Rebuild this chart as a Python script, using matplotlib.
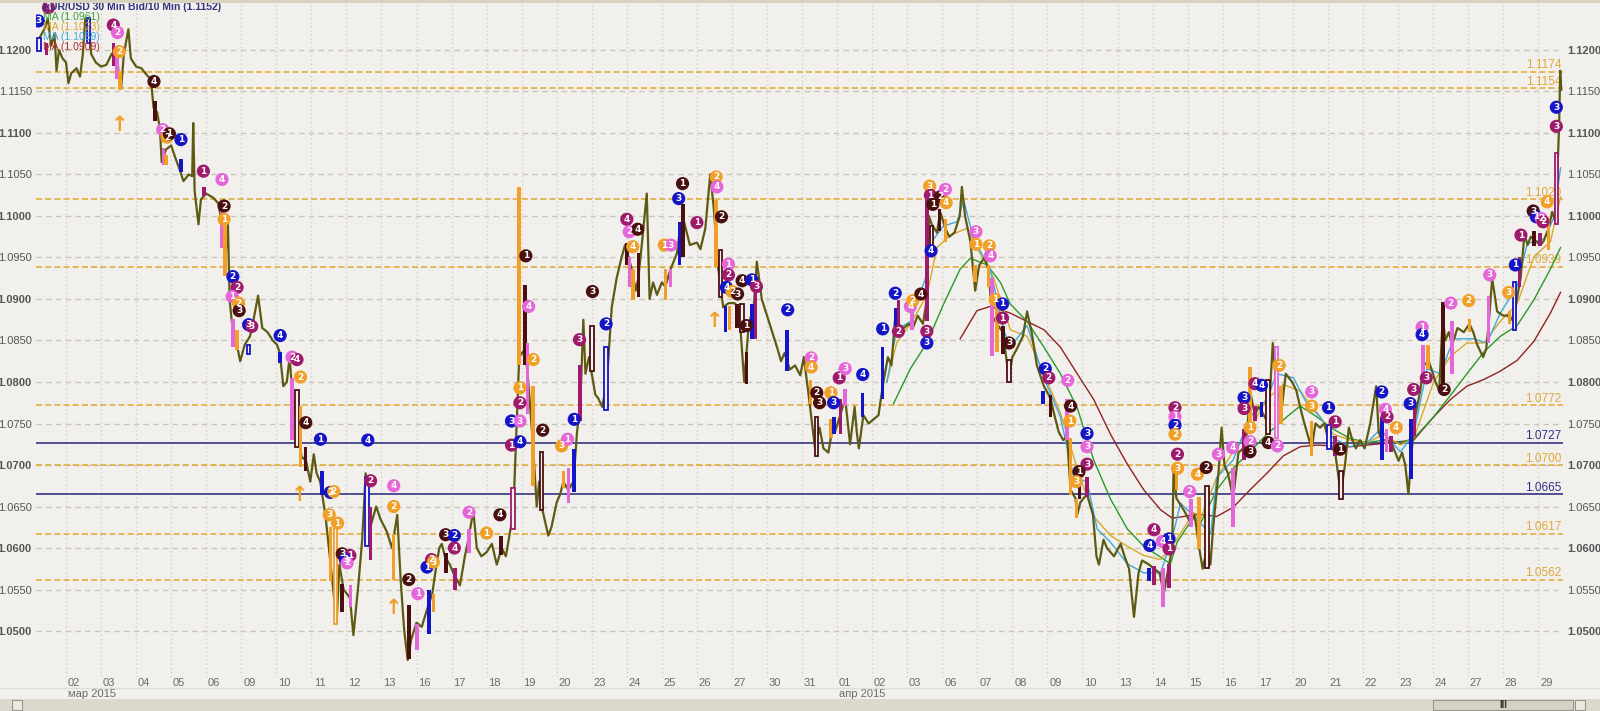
import matplotlib
matplotlib.use("Agg")
import matplotlib.pyplot as plt
from matplotlib.transforms import blended_transform_factory
from matplotlib.patches import Rectangle
from matplotlib.lines import Line2D

plt.rcParams['font.family'] = ['Liberation Sans Narrow', 'Liberation Sans', 'DejaVu Sans']

# торговые дни: индекс 0 = 02 марта, 42 = 29 апреля
day_labels = ["02", "03", "04", "05", "06", "09", "10", "11", "12", "13", "16", "17", "18", "19", "20",
              "23", "24", "25", "26", "27", "30", "31", "01", "02", "03", "06", "07", "08", "09", "10",
              "13", "14", "15", "16", "17", "20", "21", "22", "23", "24", "27", "28", "29"]
month_labels = [(0, "мар 2015"), (22, "апр 2015")]

# цена (индекс дня, курс)
price_path = [
    (-0.86, 1.1205), (-0.75, 1.1215), (-0.62, 1.1225), (-0.52, 1.1238), (-0.42, 1.1205), (-0.33, 1.1220),
    (-0.27, 1.1175), (-0.2, 1.1200), (-0.1, 1.1190), (0.0, 1.1185), (0.07, 1.1160), (0.15, 1.1172),
    (0.3, 1.1178), (0.4, 1.1168), (0.48, 1.1195), (0.55, 1.1238), (0.65, 1.1225), (0.72, 1.1195),
    (0.85, 1.1185), (1.0, 1.1180), (1.15, 1.1182), (1.3, 1.1195), (1.45, 1.1200), (1.52, 1.1160),
    (1.57, 1.1153), (1.65, 1.1195), (1.78, 1.1225), (1.85, 1.1190), (2.0, 1.1180), (2.15, 1.1178),
    (2.3, 1.1170), (2.42, 1.1165), (2.5, 1.1130), (2.6, 1.1125), (2.68, 1.1105), (2.73, 1.1065),
    (2.85, 1.1080), (3.0, 1.1085), (3.12, 1.1070), (3.25, 1.1055), (3.35, 1.1042), (3.5, 1.1050),
    (3.6, 1.1048), (3.63, 1.1112), (3.67, 1.1030), (3.78, 1.0990), (3.85, 1.1020), (4.0, 1.1027),
    (4.2, 1.1022), (4.35, 1.1015), (4.45, 1.0990), (4.55, 1.0950), (4.62, 1.0990), (4.67, 1.0898),
    (4.75, 1.0865), (4.85, 1.0850), (4.97, 1.0825), (5.1, 1.0845), (5.25, 1.0855), (5.35, 1.0875),
    (5.48, 1.0904), (5.6, 1.0865), (5.75, 1.0860), (5.9, 1.0850), (6.02, 1.0845), (6.1, 1.0835),
    (6.2, 1.0795), (6.3, 1.0800), (6.38, 1.0830), (6.45, 1.0790), (6.6, 1.0745), (6.72, 1.0710),
    (6.85, 1.0705), (6.97, 1.0680), (7.07, 1.0713), (7.15, 1.0690), (7.25, 1.0680), (7.4, 1.0640),
    (7.5, 1.0600), (7.6, 1.0560), (7.72, 1.0510), (7.8, 1.0580), (7.92, 1.0550), (8.1, 1.0540),
    (8.2, 1.0495), (8.35, 1.0560), (8.45, 1.0610), (8.55, 1.0690), (8.68, 1.0625), (8.85, 1.0650),
    (8.97, 1.0635), (9.15, 1.0620), (9.3, 1.0600), (9.45, 1.0640), (9.55, 1.0560), (9.65, 1.0500),
    (9.75, 1.0465), (9.85, 1.0490), (10.0, 1.0510), (10.15, 1.0505), (10.33, 1.0530), (10.45, 1.0545),
    (10.57, 1.0580), (10.65, 1.0600), (10.72, 1.0605), (10.81, 1.0590), (10.95, 1.0580), (11.05, 1.0570),
    (11.24, 1.0555), (11.38, 1.0590), (11.48, 1.0610), (11.62, 1.0645), (11.72, 1.0600), (11.85, 1.0590),
    (12.0, 1.0595), (12.15, 1.0605), (12.29, 1.0580), (12.43, 1.0600), (12.55, 1.0590), (12.67, 1.0620),
    (12.76, 1.0640), (12.86, 1.0750), (12.93, 1.0830), (13.1, 1.0840), (13.19, 1.0800), (13.33, 1.0720),
    (13.43, 1.0650), (13.5, 1.0680), (13.57, 1.0650), (13.76, 1.0615), (13.85, 1.0625), (14.0, 1.0655),
    (14.1, 1.0665), (14.19, 1.0680), (14.33, 1.0670), (14.48, 1.0680), (14.58, 1.0740), (14.67, 1.0770),
    (14.76, 1.0875), (14.82, 1.0810), (14.92, 1.0830), (15.0, 1.0810), (15.1, 1.0785), (15.19, 1.0780),
    (15.3, 1.0770), (15.43, 1.0800), (15.57, 1.0890), (15.71, 1.0925), (15.85, 1.0950), (15.95, 1.0965),
    (16.05, 1.0950), (16.15, 1.0935), (16.25, 1.0910), (16.33, 1.0925), (16.45, 1.0975), (16.57, 1.1027),
    (16.65, 1.0900), (16.75, 1.0920), (16.86, 1.0905), (17.0, 1.0920), (17.1, 1.0915), (17.24, 1.0935),
    (17.43, 1.0955), (17.52, 1.0985), (17.62, 1.0995), (17.8, 1.0965), (18.0, 1.0968), (18.1, 1.0960),
    (18.24, 1.0985), (18.38, 1.1050), (18.48, 1.1010), (18.6, 1.0940), (18.75, 1.0890), (18.9, 1.0895),
    (19.07, 1.0895), (19.2, 1.0890), (19.35, 1.0800), (19.48, 1.0870), (19.62, 1.0890), (19.71, 1.0945),
    (19.85, 1.0900), (20.0, 1.0880), (20.15, 1.0860), (20.3, 1.0840), (20.4, 1.0825), (20.5, 1.0835),
    (20.65, 1.0815), (20.8, 1.0820), (20.95, 1.0808), (21.05, 1.0830), (21.2, 1.0780), (21.37, 1.0720),
    (21.5, 1.0745), (21.61, 1.0720), (21.75, 1.0715), (21.85, 1.0740), (21.94, 1.0740), (22.09, 1.0760),
    (22.23, 1.0780), (22.37, 1.0725), (22.5, 1.0770), (22.56, 1.0740), (22.62, 1.0720), (22.75, 1.0760),
    (22.9, 1.0750), (23.04, 1.0755), (23.18, 1.0760), (23.32, 1.0800), (23.45, 1.0830), (23.55, 1.0820),
    (23.66, 1.0880), (23.75, 1.0870), (23.9, 1.0865), (24.05, 1.0870), (24.16, 1.0865), (24.3, 1.0880),
    (24.45, 1.0870), (24.56, 1.0900), (24.62, 1.1000), (24.7, 1.0990), (24.85, 1.0980), (24.94, 1.1005),
    (25.09, 1.0985), (25.2, 1.0975), (25.35, 1.0980), (25.5, 1.1000), (25.56, 1.1035), (25.65, 1.1000),
    (25.8, 1.0970), (25.94, 1.0910), (26.05, 1.0940), (26.2, 1.0950), (26.32, 1.0935), (26.42, 1.0880),
    (26.56, 1.0870), (26.73, 1.0860), (26.9, 1.0805), (27.0, 1.0830), (27.13, 1.0840), (27.3, 1.0855),
    (27.42, 1.0885), (27.55, 1.0860), (27.7, 1.0820), (27.9, 1.0795), (28.09, 1.0780), (28.2, 1.0760),
    (28.32, 1.0740), (28.45, 1.0730), (28.56, 1.0735), (28.66, 1.0670), (28.8, 1.0660), (28.85, 1.0640),
    (28.94, 1.0655), (29.13, 1.0665), (29.3, 1.0640), (29.4, 1.0590), (29.47, 1.0580), (29.6, 1.0610),
    (29.7, 1.0600), (29.9, 1.0590), (30.09, 1.0605), (30.2, 1.0590), (30.33, 1.0575), (30.47, 1.0517),
    (30.6, 1.0570), (30.7, 1.0585), (30.9, 1.0580), (31.04, 1.0575), (31.2, 1.0570), (31.32, 1.0545),
    (31.47, 1.0580), (31.56, 1.0600), (31.6, 1.0695), (31.68, 1.0660), (31.9, 1.0645), (32.09, 1.0630),
    (32.2, 1.0640), (32.33, 1.0600), (32.43, 1.0575), (32.56, 1.0600), (32.65, 1.0580), (32.73, 1.0625),
    (32.88, 1.0690), (32.97, 1.0745), (33.05, 1.0700), (33.15, 1.0690), (33.3, 1.0660), (33.45, 1.0715),
    (33.59, 1.0720), (33.7, 1.0740), (33.78, 1.0790), (33.92, 1.0760), (34.02, 1.0770), (34.11, 1.0765),
    (34.3, 1.0750), (34.43, 1.0847), (34.54, 1.0790), (34.69, 1.0770), (34.8, 1.0810), (34.98, 1.0800),
    (35.1, 1.0790), (35.21, 1.0770), (35.3, 1.0755), (35.4, 1.0740), (35.54, 1.0720), (35.65, 1.0750),
    (35.78, 1.0745), (35.9, 1.0750), (36.04, 1.0725), (36.21, 1.0715), (36.37, 1.0665), (36.49, 1.0700),
    (36.6, 1.0745), (36.7, 1.0730), (36.8, 1.0720), (36.92, 1.0730), (37.05, 1.0720), (37.21, 1.0750),
    (37.38, 1.0795), (37.45, 1.0740), (37.54, 1.0730), (37.69, 1.0730), (37.83, 1.0725), (38.02, 1.0705),
    (38.12, 1.0715), (38.21, 1.0700), (38.3, 1.0665), (38.4, 1.0720), (38.5, 1.0760), (38.64, 1.0790),
    (38.73, 1.0820), (38.88, 1.0825), (39.0, 1.0810), (39.07, 1.0800), (39.18, 1.0790), (39.28, 1.0880),
    (39.35, 1.0850), (39.45, 1.0860), (39.55, 1.0845), (39.7, 1.0865), (39.88, 1.0860), (40.04, 1.0870),
    (40.15, 1.0860), (40.26, 1.0845), (40.43, 1.0830), (40.52, 1.0840), (40.59, 1.0870), (40.69, 1.0925),
    (40.83, 1.0885), (41.0, 1.0880), (41.12, 1.0880), (41.25, 1.0875), (41.35, 1.0890), (41.5, 1.0925),
    (41.61, 1.0978), (41.7, 1.0965), (41.79, 1.0975), (41.92, 1.0970), (42.07, 1.0965), (42.16, 1.0970),
    (42.3, 1.0985), (42.4, 1.1005), (42.48, 1.0995), (42.54, 1.1040), (42.6, 1.1110), (42.63, 1.1175),
    (42.66, 1.1152),
]

# скользящие средние
ma_green = [(23.61, 1.0774), (24.09, 1.0816), (24.56, 1.0847), (25.04, 1.0894), (25.51, 1.0936), (25.8, 1.0949),
            (26.28, 1.0941), (26.66, 1.0920), (26.94, 1.0894), (27.42, 1.0873), (27.9, 1.0842), (28.37, 1.0810),
            (28.85, 1.0769), (29.32, 1.0706), (29.8, 1.0659), (30.28, 1.0623), (30.75, 1.0602), (31.23, 1.0589),
            (31.51, 1.0581), (31.7, 1.0607), (32.18, 1.0638), (32.35, 1.0628), (32.83, 1.0670), (33.3, 1.0696),
            (33.78, 1.0716), (34.26, 1.0737), (34.83, 1.0758), (35.21, 1.0771), (35.69, 1.0758), (36.16, 1.0743),
            (36.64, 1.0732), (37.12, 1.0727), (37.59, 1.0730), (38.07, 1.0727), (38.45, 1.0732), (39.02, 1.0758),
            (39.5, 1.0784), (39.97, 1.0810), (40.45, 1.0836), (40.92, 1.0855), (41.4, 1.0868), (41.88, 1.0899),
            (42.35, 1.0936), (42.64, 1.0962)]
ma_orange = [(23.42, 1.0800), (23.7, 1.0847), (24.09, 1.0870), (24.56, 1.0904), (24.85, 1.0962), (25.23, 1.0977),
             (25.7, 1.0985), (25.99, 1.0962), (26.47, 1.0925), (26.94, 1.0863), (27.42, 1.0855), (27.9, 1.0810),
             (28.37, 1.0763), (28.85, 1.0696), (29.32, 1.0638), (29.8, 1.0615), (30.28, 1.0602), (30.75, 1.0591),
             (31.23, 1.0586), (31.56, 1.0602), (32.18, 1.0643), (32.35, 1.0633), (32.83, 1.0685), (33.3, 1.0716),
             (33.78, 1.0743), (34.26, 1.0779), (34.73, 1.0797), (35.21, 1.0789), (35.69, 1.0763), (36.16, 1.0737),
             (36.64, 1.0730), (37.12, 1.0727), (37.59, 1.0737), (38.07, 1.0724), (38.45, 1.0732), (39.02, 1.0800),
             (39.5, 1.0831), (39.97, 1.0847), (40.45, 1.0847), (40.92, 1.0873), (41.4, 1.0894), (41.88, 1.0951),
             (42.35, 1.0969), (42.64, 1.1023)]
ma_blue = [(23.42, 1.0800), (23.7, 1.0863), (24.09, 1.0873), (24.52, 1.0925), (24.66, 1.0967), (25.04, 1.0988),
           (25.42, 1.0993), (25.61, 1.1019), (25.9, 1.0972), (26.37, 1.0936), (26.75, 1.0863), (26.94, 1.0842),
           (27.42, 1.0868), (27.9, 1.0805), (28.37, 1.0758), (28.75, 1.0685), (29.13, 1.0680), (29.42, 1.0623),
           (29.8, 1.0607), (30.28, 1.0581), (30.75, 1.0570), (31.23, 1.0570), (31.56, 1.0612), (31.8, 1.0654),
           (32.18, 1.0638), (32.66, 1.0617), (32.83, 1.0685), (33.3, 1.0706), (33.78, 1.0758), (34.26, 1.0779),
           (34.54, 1.0810), (35.02, 1.0805), (35.4, 1.0774), (35.78, 1.0758), (36.16, 1.0732), (36.64, 1.0722),
           (37.12, 1.0727), (37.5, 1.0743), (38.07, 1.0716), (38.45, 1.0737), (38.83, 1.0816), (39.21, 1.0810),
           (39.59, 1.0852), (40.16, 1.0852), (40.54, 1.0847), (40.92, 1.0883), (41.4, 1.0915), (41.69, 1.0967),
           (42.16, 1.0972), (42.45, 1.0998), (42.64, 1.1058)]
ma_red = [(25.51, 1.0852), (25.99, 1.0886), (26.37, 1.0891), (26.94, 1.0883), (27.42, 1.0873), (27.9, 1.0863),
          (28.37, 1.0842), (28.85, 1.0810), (29.32, 1.0779), (29.8, 1.0737), (30.28, 1.0701), (30.75, 1.0670),
          (31.23, 1.0646), (31.56, 1.0636), (31.9, 1.0638), (32.28, 1.0641), (32.83, 1.0638), (33.3, 1.0649),
          (33.78, 1.0670), (34.26, 1.0690), (34.73, 1.0711), (35.21, 1.0722), (35.69, 1.0724), (36.64, 1.0722),
          (37.59, 1.0726), (38.45, 1.0730), (39.02, 1.0758), (39.5, 1.0779), (39.97, 1.0795), (40.45, 1.0803),
          (40.92, 1.0813), (41.4, 1.0826), (41.88, 1.0849), (42.35, 1.0883), (42.64, 1.0908)]
ma_legend = [("MA (1.0961)", "g"), ("MA (1.1023)", "o"), ("MA (1.1059)", "c"), ("MA (1.0909)", "r")]

# уровни
gold_levels = [1.1174, 1.1154, 1.1020, 1.0939, 1.0772, 1.0700, 1.0617, 1.0562]
navy_levels = [1.0727, 1.0665]

# выделенные свечи: (день, мин, макс, цвет, полая)
bars = [
    (-0.77, 1.1199, 1.1215, "b", True), (-0.55, 1.1194, 1.1209, "m", False), (0.64, 1.1209, 1.1238, "b", True),
    (1.35, 1.1181, 1.1209, "m", False), (1.45, 1.1165, 1.1196, "p", False), (1.54, 1.1152, 1.1175, "o", False),
    (2.54, 1.1115, 1.1139, "r", False), (2.78, 1.1061, 1.1082, "p", False), (2.86, 1.1061, 1.1074, "o", False),
    (3.28, 1.1053, 1.1069, "b", False), (3.94, 1.1024, 1.1035, "m", False), (4.45, 1.0962, 1.1019, "p", False),
    (4.54, 1.0928, 1.0988, "o", False), (4.76, 1.0842, 1.0876, "p", False), (4.88, 1.0839, 1.0863, "o", False),
    (5.21, 1.0834, 1.0844, "b", True), (6.11, 1.0823, 1.0836, "b", False), (6.45, 1.0730, 1.0805, "p", False),
    (6.59, 1.0722, 1.0790, "r", True), (6.69, 1.0698, 1.0771, "o", False), (6.83, 1.0693, 1.0722, "r", False),
    (7.3, 1.0664, 1.0693, "b", False), (7.54, 1.0560, 1.0625, "o", False), (7.69, 1.0508, 1.0628, "o", True),
    (7.88, 1.0523, 1.0557, "r", False), (8.11, 1.0529, 1.0555, "p", False), (8.59, 1.0602, 1.0685, "b", True),
    (8.69, 1.0586, 1.0649, "m", False), (9.35, 1.0562, 1.0617, "o", False), (9.78, 1.0466, 1.0531, "r", False),
    (10.02, 1.0477, 1.0508, "p", False), (10.35, 1.0497, 1.0550, "b", False), (10.48, 1.0523, 1.0544, "o", False),
    (10.84, 1.0570, 1.0594, "r", False), (11.1, 1.0550, 1.0576, "m", False), (11.5, 1.0594, 1.0623, "p", False),
    (12.41, 1.0591, 1.0615, "r", False), (12.76, 1.0623, 1.0672, "m", True), (12.93, 1.0821, 1.1035, "o", False),
    (13.1, 1.0821, 1.0917, "r", False), (13.17, 1.0761, 1.0847, "p", False), (13.33, 1.0675, 1.0795, "o", False),
    (13.57, 1.0646, 1.0716, "r", True), (14.19, 1.0672, 1.0693, "o", False), (14.33, 1.0654, 1.0696, "p", False),
    (14.5, 1.0667, 1.0719, "b", False), (14.67, 1.0753, 1.0821, "m", False), (15.0, 1.0813, 1.0868, "r", True),
    (15.41, 1.0766, 1.0842, "b", True), (16.0, 1.0941, 1.0967, "r", False), (16.07, 1.0915, 1.0951, "p", False),
    (16.17, 1.0899, 1.0936, "o", False), (16.33, 1.0902, 1.0956, "r", False), (17.1, 1.0899, 1.0936, "o", False),
    (17.24, 1.0915, 1.0936, "p", False), (17.5, 1.0941, 1.0993, "b", False), (17.6, 1.0951, 1.1014, "r", False),
    (18.55, 1.0938, 1.1019, "o", False), (18.67, 1.0902, 1.0959, "r", True), (18.81, 1.0860, 1.0891, "b", False),
    (18.93, 1.0863, 1.0891, "o", False), (19.14, 1.0865, 1.0894, "r", False), (19.29, 1.0860, 1.0894, "r", True),
    (19.41, 1.0797, 1.0836, "r", False), (19.57, 1.0852, 1.0894, "b", False), (19.67, 1.0852, 1.0915, "m", False),
    (20.57, 1.0813, 1.0863, "b", False), (21.24, 1.0774, 1.0803, "o", False), (21.41, 1.0711, 1.0758, "r", True),
    (21.82, 1.0732, 1.0756, "o", False), (21.91, 1.0737, 1.0758, "b", False), (22.09, 1.0737, 1.0779, "m", False),
    (22.23, 1.0771, 1.0792, "p", False), (22.73, 1.0758, 1.0787, "b", False), (23.3, 1.0779, 1.0842, "b", False),
    (23.66, 1.0868, 1.0889, "b", False), (23.75, 1.0863, 1.0899, "m", False), (24.13, 1.0863, 1.0883, "p", False),
    (24.56, 1.0873, 1.1029, "m", False), (24.7, 1.0962, 1.0988, "r", True), (24.92, 1.0982, 1.1009, "r", False),
    (25.09, 1.0969, 1.0996, "o", False), (25.94, 1.0920, 1.0941, "o", False), (26.32, 1.0915, 1.0941, "o", False),
    (26.42, 1.0831, 1.0925, "p", False), (26.56, 1.0836, 1.0894, "o", False), (26.73, 1.0834, 1.0868, "r", False),
    (26.91, 1.0800, 1.0826, "r", True), (27.87, 1.0774, 1.0789, "b", False), (28.09, 1.0758, 1.0784, "r", False),
    (28.56, 1.0730, 1.0779, "p", False), (28.66, 1.0664, 1.0732, "o", False), (28.83, 1.0636, 1.0659, "o", False),
    (28.92, 1.0659, 1.0685, "r", False), (29.13, 1.0662, 1.0685, "m", False), (30.9, 1.0560, 1.0576, "b", False),
    (31.04, 1.0555, 1.0578, "m", False), (31.3, 1.0529, 1.0576, "p", False), (31.47, 1.0552, 1.0581, "m", False),
    (31.68, 1.0670, 1.0693, "o", False), (32.09, 1.0625, 1.0659, "p", False), (32.33, 1.0599, 1.0662, "o", False),
    (32.56, 1.0576, 1.0675, "r", True), (33.3, 1.0625, 1.0696, "p", False), (33.61, 1.0706, 1.0743, "m", False),
    (33.78, 1.0750, 1.0818, "o", False), (33.92, 1.0753, 1.0771, "m", False), (34.11, 1.0758, 1.0776, "b", False),
    (34.3, 1.0737, 1.0803, "r", True), (34.54, 1.0732, 1.0842, "p", True), (34.66, 1.0750, 1.0795, "o", False),
    (35.54, 1.0711, 1.0753, "o", False), (36.04, 1.0719, 1.0748, "b", True), (36.21, 1.0711, 1.0735, "m", False),
    (36.37, 1.0659, 1.0693, "r", True), (37.54, 1.0706, 1.0758, "b", False), (37.67, 1.0716, 1.0743, "p", False),
    (37.8, 1.0716, 1.0735, "m", False), (38.37, 1.0683, 1.0756, "b", False), (38.47, 1.0735, 1.0776, "m", False),
    (38.71, 1.0800, 1.0844, "p", False), (38.86, 1.0816, 1.0844, "o", False), (39.28, 1.0792, 1.0896, "r", False),
    (39.55, 1.0810, 1.0873, "p", False), (40.04, 1.0860, 1.0876, "o", False), (40.59, 1.0847, 1.0904, "p", False),
    (41.18, 1.0870, 1.0886, "o", False), (41.32, 1.0863, 1.0920, "b", True), (41.47, 1.0915, 1.0951, "m", False),
    (41.88, 1.0964, 1.0982, "r", False), (42.05, 1.0964, 1.0980, "m", False), (42.29, 1.0959, 1.0998, "o", False),
    (42.52, 1.0990, 1.1076, "m", True),
]

# метки-кружки: (день, курс, номер, цвет)
marks = [
    (-0.79, 1.1235, "3", "b"), (-0.5, 1.1251, "3", "m"), (1.35, 1.1230, "4", "m"), (1.47, 1.1221, "2", "p"),
    (1.52, 1.1198, "2", "o"), (2.51, 1.1162, "4", "r"), (2.76, 1.1104, "2", "p"), (2.88, 1.1095, "2", "o"),
    (2.95, 1.1099, "1", "r"), (3.28, 1.1092, "1", "b"), (3.92, 1.1054, "1", "m"), (4.45, 1.1044, "4", "p"),
    (4.51, 1.1012, "2", "r"), (4.51, 1.0996, "1", "o"), (4.76, 1.0927, "2", "b"), (4.88, 1.0914, "2", "m"),
    (4.74, 1.0903, "1", "p"), (4.92, 1.0895, "2", "o"), (4.94, 1.0886, "3", "r"), (5.21, 1.0869, "3", "b"),
    (5.30, 1.0867, "3", "m"), (6.11, 1.0856, "4", "b"), (6.45, 1.0830, "2", "p"), (6.59, 1.0827, "4", "m"),
    (6.69, 1.0806, "2", "o"), (6.84, 1.0751, "4", "r"), (7.26, 1.0731, "1", "b"), (8.61, 1.0730, "4", "b"),
    (7.54, 1.0667, "2", "b"), (7.64, 1.0668, "2", "o"), (7.51, 1.0640, "3", "o"), (7.75, 1.0630, "1", "o"),
    (7.88, 1.0593, "3", "r"), (8.10, 1.0591, "1", "m"), (7.97, 1.0586, "3", "b"), (8.02, 1.0582, "2", "p"),
    (8.69, 1.0681, "2", "m"), (9.35, 1.0675, "4", "p"), (9.35, 1.0650, "2", "o"), (9.78, 1.0562, "2", "r"),
    (10.04, 1.0545, "1", "p"), (10.30, 1.0577, "1", "b"), (10.43, 1.0586, "2", "m"), (10.48, 1.0583, "3", "o"),
    (10.83, 1.0616, "3", "r"), (11.08, 1.0615, "2", "b"), (11.08, 1.0600, "4", "m"), (11.50, 1.0643, "2", "p"),
    (12.0, 1.0618, "1", "o"), (12.38, 1.0640, "4", "r"), (12.71, 1.0724, "1", "m"), (12.95, 1.0728, "4", "b"),
    (12.71, 1.0753, "3", "b"), (12.95, 1.0753, "3", "p"), (12.95, 1.0775, "2", "m"), (12.95, 1.0793, "1", "o"),
    (13.12, 1.0952, "1", "r"), (13.20, 1.0891, "4", "p"), (13.33, 1.0827, "2", "o"), (13.60, 1.0742, "2", "r"),
    (14.14, 1.0723, "3", "o"), (14.31, 1.0731, "1", "p"), (14.50, 1.0755, "1", "b"), (14.65, 1.0851, "3", "m"),
    (15.02, 1.0909, "3", "r"), (15.41, 1.0870, "2", "b"), (16.0, 1.0996, "4", "m"), (16.07, 1.0981, "2", "p"),
    (16.31, 1.0984, "4", "r"), (16.17, 1.0963, "4", "o"), (17.07, 1.0965, "1", "o"), (17.26, 1.0965, "3", "p"),
    (17.48, 1.1021, "3", "b"), (17.59, 1.1039, "1", "r"), (18.0, 1.0992, "1", "m"), (18.55, 1.1047, "2", "o"),
    (18.57, 1.1035, "4", "p"), (18.70, 1.0999, "2", "r"), (18.90, 1.0942, "1", "p"), (18.90, 1.0929, "2", "m"),
    (18.84, 1.0914, "4", "b"), (19.0, 1.0909, "2", "o"), (19.16, 1.0906, "3", "r"), (19.29, 1.0922, "4", "r"),
    (19.57, 1.0923, "1", "b"), (19.70, 1.0915, "3", "m"), (19.41, 1.0868, "1", "r"), (20.59, 1.0887, "2", "b"),
    (21.26, 1.0829, "2", "p"), (21.26, 1.0818, "4", "o"), (21.42, 1.0787, "2", "r"), (21.50, 1.0775, "3", "r"),
    (21.82, 1.0787, "1", "o"), (21.90, 1.0775, "3", "b"), (22.06, 1.0805, "1", "m"), (22.23, 1.0816, "3", "p"),
    (22.73, 1.0809, "4", "b"), (23.30, 1.0864, "1", "b"), (23.66, 1.0907, "2", "b"), (23.75, 1.0861, "2", "m"),
    (24.09, 1.0891, "4", "p"), (24.16, 1.0898, "2", "o"), (24.39, 1.0906, "4", "r"), (24.56, 1.0861, "3", "m"),
    (24.56, 1.0847, "3", "b"), (24.64, 1.1036, "3", "o"), (24.66, 1.1025, "1", "m"), (24.73, 1.1014, "1", "r"),
    (24.94, 1.1023, "2", "r"), (25.09, 1.1032, "2", "p"), (25.11, 1.1016, "4", "o"), (24.68, 1.0958, "4", "b"),
    (25.96, 1.0981, "3", "p"), (25.96, 1.0966, "1", "o"), (26.34, 1.0964, "2", "o"), (26.37, 1.0952, "4", "p"),
    (26.51, 1.0899, "1", "o"), (26.72, 1.0894, "1", "b"), (26.72, 1.0877, "1", "m"), (26.91, 1.0847, "3", "r"),
    (27.94, 1.0816, "2", "b"), (28.04, 1.0805, "2", "m"), (28.58, 1.0802, "2", "p"), (28.66, 1.0771, "4", "r"),
    (28.64, 1.0753, "1", "o"), (29.13, 1.0738, "3", "b"), (29.13, 1.0722, "3", "p"), (29.13, 1.0701, "3", "m"),
    (28.90, 1.0692, "1", "r"), (28.82, 1.0680, "3", "o"), (30.92, 1.0603, "4", "b"), (31.04, 1.0622, "4", "m"),
    (31.28, 1.0608, "4", "p"), (31.47, 1.0611, "1", "b"), (31.47, 1.0599, "1", "m"), (31.64, 1.0769, "2", "m"),
    (31.64, 1.0758, "1", "p"), (31.64, 1.0748, "2", "b"), (31.64, 1.0737, "2", "o"), (31.71, 1.0713, "2", "m"),
    (31.71, 1.0696, "3", "o"), (32.28, 1.0689, "4", "o"), (32.53, 1.0697, "2", "r"), (32.06, 1.0668, "2", "p"),
    (32.88, 1.0713, "3", "p"), (33.28, 1.0721, "4", "p"), (33.61, 1.0781, "3", "b"), (33.61, 1.0768, "3", "m"),
    (33.78, 1.0745, "1", "o"), (33.78, 1.0728, "2", "p"), (33.78, 1.0716, "3", "r"), (33.92, 1.0798, "4", "m"),
    (34.11, 1.0796, "4", "b"), (34.30, 1.0727, "4", "r"), (34.56, 1.0723, "2", "p"), (34.61, 1.0820, "2", "o"),
    (35.54, 1.0788, "3", "p"), (35.54, 1.0771, "3", "o"), (36.02, 1.0769, "1", "b"), (36.21, 1.0752, "1", "m"),
    (36.35, 1.0719, "1", "r"), (37.54, 1.0788, "2", "b"), (37.64, 1.0767, "4", "p"), (37.69, 1.0758, "2", "m"),
    (37.95, 1.0745, "4", "o"), (38.35, 1.0774, "3", "b"), (38.45, 1.0791, "3", "m"), (38.69, 1.0866, "1", "p"),
    (38.69, 1.0857, "4", "b"), (38.81, 1.0805, "3", "m"), (39.32, 1.0791, "2", "r"), (39.51, 1.0895, "2", "p"),
    (40.02, 1.0898, "2", "o"), (40.62, 1.0929, "3", "p"), (41.16, 1.0908, "3", "o"), (41.35, 1.0941, "1", "b"),
    (41.51, 1.0977, "1", "m"), (41.86, 1.1006, "3", "r"), (41.95, 1.0999, "1", "b"), (42.09, 1.0997, "2", "p"),
    (42.14, 1.0993, "2", "m"), (42.26, 1.1017, "4", "o"), (42.52, 1.1131, "3", "b"), (42.52, 1.1108, "3", "m"),
]

# стрелки вверх
arrows = [(1.52, 1.1110), (6.66, 1.0664), (9.35, 1.0528), (18.52, 1.0873)]

colors = {"b": "#1515c8", "m": "#9e1a6c", "p": "#e466d8", "o": "#f0a028", "r": "#4a1010",
          "g": "#2a9a2a", "c": "#3fa8dc"}
bg = "#f1f0ec"

fig = plt.figure(figsize=(16, 7.11), dpi=100, facecolor=bg)
ax = fig.add_axes([36 / 1600, 34 / 711, 1527 / 1600, 674 / 711], facecolor=bg)

ax.set_xlim(-0.856, 42.71)
ax.set_ylim(1.04446, 1.12566)

# сетка
yt = [round(1.05 + 0.005 * i, 4) for i in range(15)]
ax.set_yticks(yt)
ax.set_yticklabels([f"{v:.4f}" for v in yt])
ax.yaxis.grid(True, color="#c9c6b8", linestyle=(0, (4, 3)), linewidth=1.0)
ax.set_xticks([i for i in range(len(day_labels))], minor=True)
ax.xaxis.grid(True, which="minor", color="#d2d0c8", linestyle=(0, (1, 2)), linewidth=1.0)
ax.set_xticks([i + 0.23 for i in range(len(day_labels))])
ax.set_xticklabels(day_labels, family=["Liberation Sans", "DejaVu Sans"])
ax.tick_params(axis="x", which="both", length=0, pad=1, labelsize=8, labelcolor="#6a6a6a")
ax.tick_params(axis="y", length=0, labelleft=True, labelright=True, labelsize=8, labelcolor="#555555", pad=3)
for t, v in zip(ax.yaxis.get_major_ticks(), yt):
    if round(v * 1000) % 10 == 0:
        t.label1.set_fontweight("bold")
        t.label2.set_fontweight("bold")
for s in ax.spines.values():
    s.set_visible(False)
ax.set_axisbelow(True)

# уровни
rtr = blended_transform_factory(ax.transAxes, ax.transData)
for lv in gold_levels:
    ax.axhline(lv, color="#e2a832", linestyle=(0, (4, 2)), linewidth=1.1, zorder=1)
    ax.text(0.999, lv + 0.00006, f"{lv:.4f}", transform=rtr, ha="right", va="bottom",
            fontsize=8.5, color="#e0a838", zorder=2)
for lv in navy_levels:
    ax.axhline(lv, color="#24247a", linewidth=1.1, zorder=1)
    ax.text(0.999, lv + 0.00006, f"{lv:.4f}", transform=rtr, ha="right", va="bottom",
            fontsize=8.5, color="#30308a", zorder=2)

# скользящие средние
for path, c in [(ma_red, "#8e2424"), (ma_green, colors["g"]), (ma_orange, "#d8a82a"), (ma_blue, colors["c"])]:
    ax.plot([p[0] for p in path], [p[1] for p in path], color=c, linewidth=1.0, zorder=3)

# цена
ax.plot([p[0] for p in price_path], [p[1] for p in price_path], color="#5e5a14", linewidth=1.6, zorder=4)

# свечи
for x, lo, hi, c, hollow in bars:
    if hollow:
        ax.bar(x, hi - lo, bottom=lo, width=0.1, facecolor="#f6f2f2", edgecolor=colors[c], linewidth=1.3, zorder=5)
    else:
        ax.bar(x, hi - lo, bottom=lo, width=0.1, color=colors[c], linewidth=0, zorder=5)

# стрелки
for x, y in arrows:
    ax.text(x, y, "\u2191", color="#f0a028", fontsize=15, fontweight="bold", ha="center", va="center",
            family="DejaVu Sans", zorder=6)

# кружки с номерами
for x, y, n, c in marks:
    ax.scatter(x, y, s=90, color=colors[c], edgecolors="none", zorder=7, clip_on=True)
    ax.text(x, y, n, color="white", fontsize=6.5, fontweight="bold", ha="center", va="center", zorder=8,
            family="DejaVu Sans", clip_on=True)

# заголовок и легенда
ax.text(0.0046, 0.9945, "EUR/USD 30 Min Bid/10 Min (1.1152)", transform=ax.transAxes, fontsize=7.5,
        fontweight="bold", color="#333380", va="center", ha="left", zorder=9)
leg_cols = {"g": "#3aa43a", "o": "#d8a82a", "c": "#3fa8dc", "r": "#b03030"}
for i, (txt, c) in enumerate(ma_legend):
    ax.text(0.0046, 0.979 - i * 0.0148, txt, transform=ax.transAxes, fontsize=7.5, color=leg_cols[c],
            va="center", ha="left", zorder=9)

# месяцы
btr = blended_transform_factory(ax.transData, ax.transAxes)
for i, txt in month_labels:
    ax.text(i + 0.05, -(694 - 677) / 674, txt, transform=btr, fontsize=8, color="#6a6a6a", ha="left",
            va="center", family=["Liberation Sans", "DejaVu Sans"])

# разделитель и полоса прокрутки внизу
fig.add_artist(Line2D([0, 1], [(711 - 688) / 711] * 2, transform=fig.transFigure, color="#dedcd4", linewidth=1))
fig.patches.append(Rectangle((0, 0), 1, 12 / 711, transform=fig.transFigure, facecolor="#dcd8ce",
                             edgecolor="none"))
fig.patches.append(Rectangle((1433 / 1600, 1 / 711), 140 / 1600, 10 / 711, transform=fig.transFigure,
                             facecolor="#d6d2c6", edgecolor="#9a968c", linewidth=0.8))
fig.text(1503 / 1600, 6 / 711, "III", fontsize=7, fontweight="bold", ha="center", va="center", color="#333333")
fig.patches.append(Rectangle((1575 / 1600, 1 / 711), 10 / 1600, 10 / 711, transform=fig.transFigure,
                             facecolor="#ece9e0", edgecolor="#9a968c", linewidth=0.8))
fig.patches.append(Rectangle((12 / 1600, 1 / 711), 10 / 1600, 10 / 711, transform=fig.transFigure,
                             facecolor="#ece9e0", edgecolor="#9a968c", linewidth=0.8))
fig.patches.append(Rectangle((0, 708 / 711), 1, 3 / 711, transform=fig.transFigure, facecolor="#d8d2be",
                             edgecolor="none"))

fig.savefig("out.png", dpi=100, facecolor=bg)
